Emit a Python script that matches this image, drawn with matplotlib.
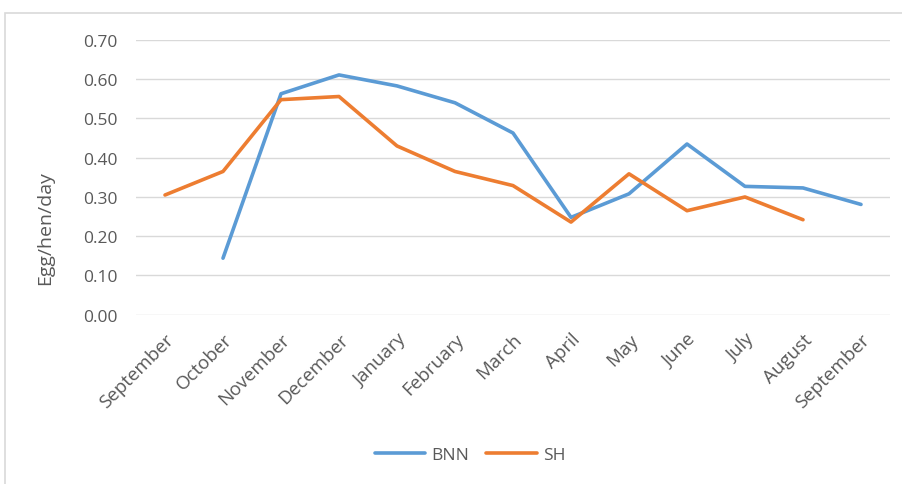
import numpy as np
import matplotlib.pyplot as plt
from matplotlib.patches import Rectangle

# data
months = ["September", "October", "November", "December", "January", "February",
          "March", "April", "May", "June", "July", "August", "September"]
bnn = [np.nan, 0.144, 0.563, 0.611, 0.583, 0.540, 0.463, 0.248, 0.308, 0.435, 0.327, 0.323, 0.281]
sh = [0.305, 0.365, 0.548, 0.556, 0.430, 0.365, 0.329, 0.236, 0.359, 0.265, 0.300, 0.242, np.nan]
yticks = [0.0, 0.1, 0.2, 0.3, 0.4, 0.5, 0.6, 0.7]

plt.rcParams['font.family'] = ['Open Sans', 'DejaVu Sans']
txt = '#595959'
fs = 12.5

fig = plt.figure(figsize=(9.03, 4.85), dpi=100)
# chart frame (cut off on the right and bottom in the reference)
fig.patches.append(Rectangle((5 / 903, -0.1), 1.0, 1 - 14 / 485 + 0.1, transform=fig.transFigure,
                             fill=False, edgecolor='#d9d9d9', linewidth=1.2))

ax = fig.add_axes([136 / 903, 1 - 315.7 / 485, 754 / 903, (315.7 - 41) / 485])
x = np.arange(len(months))
ax.plot(x, bnn, color='#5B9BD5', linewidth=2.6, label='BNN', solid_capstyle='round')
ax.plot(x, sh, color='#ED7D31', linewidth=2.6, label='SH', solid_capstyle='round')

ax.set_xlim(-0.5, len(months) - 0.5)
ax.set_ylim(0, 0.7)
ax.set_yticks(yticks)
ax.set_yticklabels([f"{v:.2f}" for v in yticks], color=txt, fontsize=fs)
ax.set_xticks(x)
ax.set_xticklabels(months, rotation=45, ha='right', rotation_mode='anchor', color=txt, fontsize=13.5)
ax.tick_params(axis='y', length=0, pad=13)
ax.tick_params(axis='x', length=0, pad=11)
ax.grid(axis='y', color='#d9d9d9', linewidth=1)
ax.set_axisbelow(True)
for s in ax.spines.values():
    s.set_visible(False)

# y title sits lower than the plot centre, as in the reference
fig.text(45 / 903, 1 - 228 / 485, "Egg/hen/day", rotation=90, ha='center', va='center',
         color=txt, fontsize=14)

ax.legend(loc='center', bbox_to_anchor=(470 / 903, 1 - 456 / 485), bbox_transform=fig.transFigure,
          ncol=2, frameon=False, fontsize=fs, labelcolor=txt, handlelength=2.9,
          handletextpad=0.35, columnspacing=1.0)

fig.savefig("out.png", dpi=100)
